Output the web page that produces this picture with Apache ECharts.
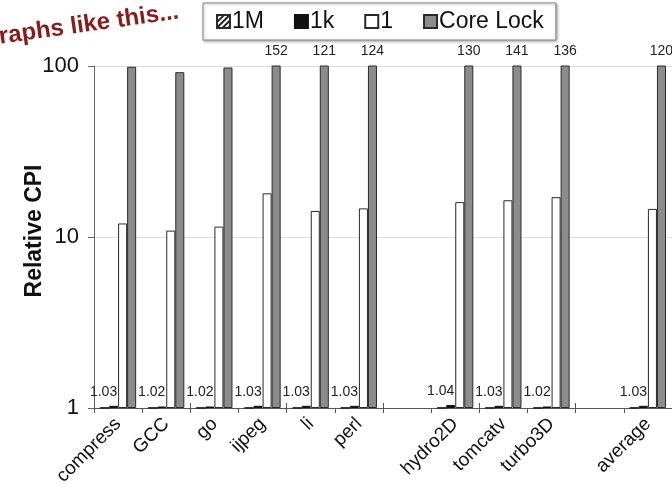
<!DOCTYPE html>
<html>
<head>
<meta charset="utf-8">
<script src="https://cdn.jsdelivr.net/npm/echarts@6/dist/echarts.min.js"></script>
<style>
  html, body { margin: 0; padding: 0; background: #fff; }
  #chart { width: 672px; height: 502px; }
</style>
</head>
<body>
<div id="chart"></div>
<script>
// Benchmarks; empty strings leave a blank slot between the groups
const categories = ['compress', 'GCC', 'go', 'ijpeg', 'li', 'perl', '', 'hydro2D', 'tomcatv', 'turbo3D', '', 'average'];
const series1M   = [1.0, 1.0, 1.0, 1.0, 1.0, 1.0, '-', 1.0, 1.0, 1.0, '-', 1.0];
const series1k   = [1.03, 1.02, 1.02, 1.03, 1.03, 1.03, '-', 1.04, 1.03, 1.02, '-', 1.03];
const series1    = [12.0, 10.9, 11.5, 18.0, 14.2, 14.7, '-', 16.0, 16.4, 17.1, '-', 14.6];
const seriesCore = [99, 92, 98, 152, 121, 124, '-', 130, 141, 136, '-', 120];
const yTicks     = [1, 10, 100];

const FONT = "'Liberation Sans', Arial, sans-serif";
const chart = echarts.init(document.getElementById('chart'), null, { renderer: 'canvas' });

const edge = '#2a2a2a';

chart.setOption({
  animation: false,
  backgroundColor: '#fff',
  textStyle: { fontFamily: FONT },
  grid: { left: 94, right: 0, top: 66, bottom: 94, containLabel: false },
  legend: {
    left: 203, top: 3,
    padding: [7, 12, 7, 13],
    borderColor: '#8a8a8a', borderWidth: 1,
    backgroundColor: '#fff',
    shadowColor: 'rgba(0,0,0,0.35)', shadowBlur: 3, shadowOffsetX: 1, shadowOffsetY: 1,
    itemWidth: 13, itemHeight: 13, itemGap: 30,
    icon: 'rect',
    textStyle: { fontSize: 23, color: '#111', fontFamily: FONT, padding: [0, 0, 0, -3] },
    data: ['1M', '1k', '1', 'Core Lock']
  },
  xAxis: [{
    type: 'category',
    data: categories,
    axisLine: { lineStyle: { color: '#555', width: 1 } },
    axisTick: { show: true, length: 5, lineStyle: { color: '#555' } },
    axisLabel: { rotate: 45, fontSize: 19, color: '#111', margin: 13, interval: 0, fontFamily: FONT },
    splitLine: { show: false }
  }, {
    type: 'category',
    data: categories,
    position: 'bottom',
    axisLine: { show: false },
    axisTick: { show: true, inside: true, length: 5, lineStyle: { color: '#555' } },
    axisLabel: { show: false },
    splitLine: { show: false }
  }],
  yAxis: {
    type: 'log',
    logBase: 10,
    min: yTicks[0], max: yTicks[yTicks.length - 1],
    name: 'Relative CPI',
    nameLocation: 'middle',
    nameGap: 48,
    nameMoveOverlap: false,
    nameTextStyle: { fontSize: 23, fontWeight: 'bold', color: '#111', fontFamily: FONT, padding: [0, 0, 0, 12] },
    axisLine: { show: true, lineStyle: { color: '#666' } },
    axisTick: { show: true, length: 6, lineStyle: { color: '#666' } },
    axisLabel: { fontSize: 22, color: '#111', margin: 15, fontFamily: FONT },
    splitLine: { show: true, lineStyle: { color: '#dcdcdc' } }
  },
  series: [{
    name: '1M', type: 'bar', data: series1M,
    barGap: '0%', barCategoryGap: '25%',
    itemStyle: {
      color: '#fff', borderColor: edge, borderWidth: 1,
      decal: { symbol: 'rect', dashArrayX: [1, 0], dashArrayY: [1.5, 2], rotation: -Math.PI / 4, color: '#222' }
    }
  }, {
    name: '1k', type: 'bar', data: series1k,
    itemStyle: { color: '#111', borderColor: '#111', borderWidth: 1 },
    label: {
      show: true, position: 'top', distance: 7, offset: [-10, 0],
      fontSize: 14, color: '#222', fontFamily: FONT,
      formatter: p => p.value.toFixed(2)
    }
  }, {
    name: '1', type: 'bar', data: series1,
    itemStyle: { color: '#fff', borderColor: edge, borderWidth: 1 }
  }, {
    name: 'Core Lock', type: 'bar', data: seriesCore,
    clip: true,
    itemStyle: { color: '#8c8c8c', borderColor: edge, borderWidth: 1 },
    label: {
      show: true, position: 'top', distance: 7,
      fontSize: 14, color: '#222', fontFamily: FONT,
      formatter: p => (p.value > yTicks[yTicks.length - 1] ? String(p.value) : '')
    }
  }],
  graphic: [{
    type: 'text',
    left: -21, top: 0,
    rotation: 0.14,
    style: {
      text: 'Graphs like this...',
      font: "bold 24px " + FONT,
      fill: '#8b1a1a'
    }
  }]
});
</script>
</body>
</html>
